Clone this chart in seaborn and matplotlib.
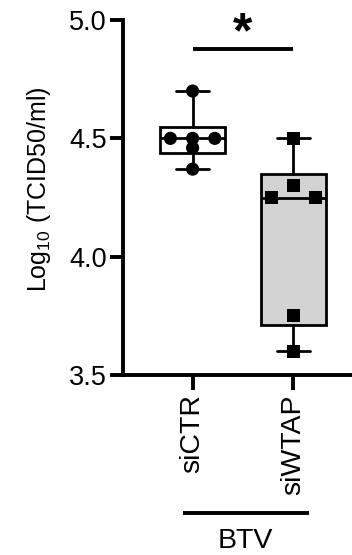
import matplotlib
matplotlib.use("Agg")
import matplotlib.pyplot as plt
import matplotlib.transforms as mtransforms
import numpy as np
import pandas as pd
import seaborn as sns
from collections import Counter, defaultdict

# values (log10 TCID50/ml)
groups = ["siCTR", "siWTAP"]
ctr_vals = [4.70, 4.50, 4.50, 4.50, 4.46, 4.37]
wtap_vals = [4.50, 4.30, 4.25, 4.25, 3.75, 3.60]
box_colors = ["white", "#d3d3d3"]
markers = {"siCTR": "o", "siWTAP": "s"}
y_ticks = [3.5, 4.0, 4.5, 5.0]
virus = "BTV"
sig_label = "*"

sns.set_style("ticks")
plt.rcParams["font.family"] = ["Liberation Sans", "DejaVu Sans"]
plt.rcParams["mathtext.fontset"] = "custom"
plt.rcParams["mathtext.rm"] = "Liberation Sans"
plt.rcParams["mathtext.default"] = "regular"
for k in ["text.color", "axes.labelcolor", "xtick.color", "ytick.color", "axes.edgecolor"]:
    plt.rcParams[k] = "black"

LW = 2.8


def spread(values, step=0.22):
    # Prism-like scatter: spread identical values side by side
    counts = Counter(values)
    seen = defaultdict(int)
    offs = []
    for v in values:
        k, i = counts[v], seen[v]
        seen[v] += 1
        if k == 1:
            slot = 0
        elif k % 2:
            slot = i - (k - 1) // 2
        else:
            slot = (i // 2 + 1) * (-1 if i % 2 == 0 else 1)
        offs.append(slot * step)
    return offs


rows = []
for gi, (g, vals) in enumerate(zip(groups, [ctr_vals, wtap_vals])):
    for v, o in zip(vals, spread(vals)):
        rows.append({"group": g, "value": v, "x": gi + o})
df = pd.DataFrame(rows)

fig = plt.figure(figsize=(3.52, 5.55), dpi=100)
ax = fig.add_axes([0.3494, 0.3243, 0.6506, 0.6396])

# box stats with Prism-style quartiles (n+1 method), whiskers min-max
stats = []
for g in groups:
    v = df.loc[df.group == g, "value"].to_numpy()
    q1, med, q3 = np.percentile(v, [25, 50, 75], method="weibull")
    stats.append(dict(med=med, q1=q1, q3=q3, whislo=v.min(), whishi=v.max(), fliers=[]))

bp = ax.bxp(stats, positions=range(len(groups)), widths=0.65, capwidths=0.33,
            patch_artist=True, showfliers=False,
            boxprops=dict(linewidth=2.0, edgecolor="black"),
            medianprops=dict(linewidth=2.0, color="black"),
            whiskerprops=dict(linewidth=2.0, color="black"),
            capprops=dict(linewidth=2.0, color="black"))
for patch, c in zip(bp["boxes"], box_colors):
    patch.set_facecolor(c)

sns.scatterplot(data=df, x="x", y="value", style="group", markers=markers,
                color="black", edgecolor="black", linewidth=0, s=90,
                legend=False, ax=ax, zorder=5)

ax.set_xlim(-0.69, 1.58)
ax.set_ylim(3.5, 5.0)
ax.set_yticks(y_ticks)
ax.set_yticklabels([f"{t:.1f}" for t in y_ticks], fontsize=19.5)
ax.set_xticks(range(len(groups)))
ax.set_xticklabels(groups, rotation=90, fontsize=20.5)
ax.set_xlabel("")
ax.set_ylabel(r"Log$_{10}$ (TCID50/ml)", fontsize=18)
ax.yaxis.set_label_coords(-0.305, 0.525)

sns.despine(ax=ax)
for side in ["left", "bottom"]:
    ax.spines[side].set_linewidth(LW)
ax.tick_params(axis="y", length=9.5, width=LW, pad=2)
ax.tick_params(axis="x", length=11, width=LW, pad=3)

# significance bar
top = max(ctr_vals + wtap_vals)
bar_y = top + 0.177
ax.plot([0, 1], [bar_y, bar_y], color="black", lw=LW, solid_capstyle="butt", clip_on=False)
ax.text(0.5, bar_y - 0.035, sig_label, ha="center", va="bottom", fontsize=36,
        fontweight="bold", clip_on=False)

# group line under tick labels
trans = mtransforms.blended_transform_factory(ax.transData, ax.transAxes)
ax.plot([-0.10, 1.15], [-0.389, -0.389], color="black", lw=LW, transform=trans,
        clip_on=False, solid_capstyle="butt")
ax.text(0.52, -0.43, virus, ha="center", va="top", fontsize=20.5, transform=trans)

fig.savefig("out.png", dpi=100)
